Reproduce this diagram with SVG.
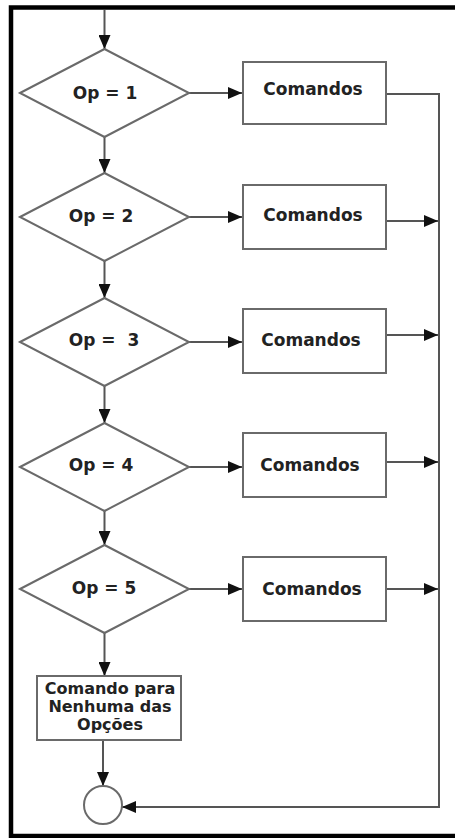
<svg xmlns="http://www.w3.org/2000/svg" width="455" height="838" viewBox="0 0 455 838">
  <style>
    .frame { fill: none; stroke: #000; stroke-width: 4.5; }
    .shape { fill: #fff; stroke: #6a6a6a; stroke-width: 2; }
    .edge { fill: none; stroke: #555; stroke-width: 2; }
    .label { font-family: "DejaVu Sans", Verdana, sans-serif; font-weight: bold; font-size: 17px; fill: #222; text-anchor: middle; }
    .small { font-size: 16px; }
  </style>
  <defs>
    <marker id="arrow" viewBox="0 0 14 12" refX="14" refY="6" markerWidth="14" markerHeight="12" orient="auto" markerUnits="userSpaceOnUse">
      <path d="M0,0 L14,6 L0,12 z" fill="#111"/>
    </marker>
  </defs>

  <rect width="455" height="838" fill="#fff"/>
  <!-- outer frame (open on the right) -->
  <path class="frame" d="M460,7.5 H11 V836 H460"/>

  <!-- connectors -->
  <g id="connectors">
    <line class="edge" x1="104.5" y1="10" x2="104.5" y2="49" marker-end="url(#arrow)"/>
    <line class="edge" x1="104.5" y1="137" x2="104.5" y2="173" marker-end="url(#arrow)"/>
    <line class="edge" x1="104.5" y1="261" x2="104.5" y2="298" marker-end="url(#arrow)"/>
    <line class="edge" x1="104.5" y1="386" x2="104.5" y2="423" marker-end="url(#arrow)"/>
    <line class="edge" x1="104.5" y1="511" x2="104.5" y2="545" marker-end="url(#arrow)"/>
    <line class="edge" x1="104.5" y1="633" x2="104.5" y2="676" marker-end="url(#arrow)"/>
    <line class="edge" x1="103" y1="740" x2="103" y2="786" marker-end="url(#arrow)"/>

    <line class="edge" x1="189" y1="93" x2="242" y2="93" marker-end="url(#arrow)"/>
    <line class="edge" x1="189" y1="217" x2="242" y2="217" marker-end="url(#arrow)"/>
    <line class="edge" x1="189" y1="342" x2="242" y2="342" marker-end="url(#arrow)"/>
    <line class="edge" x1="189" y1="467" x2="242" y2="467" marker-end="url(#arrow)"/>
    <line class="edge" x1="189" y1="589" x2="242" y2="589" marker-end="url(#arrow)"/>

    <path class="edge" d="M386,94 H439 V807 H122" marker-end="url(#arrow)"/>
    <line class="edge" x1="386" y1="221" x2="438" y2="221" marker-end="url(#arrow)"/>
    <line class="edge" x1="386" y1="335" x2="438" y2="335" marker-end="url(#arrow)"/>
    <line class="edge" x1="386" y1="462" x2="438" y2="462" marker-end="url(#arrow)"/>
    <line class="edge" x1="386" y1="589" x2="438" y2="589" marker-end="url(#arrow)"/>
  </g>

  <!-- decisions -->
  <g id="op1">
    <polygon class="shape" points="20,93 104.5,49 189,93 104.5,137"/>
    <text class="label" x="105" y="99">Op = 1</text>
  </g>
  <g id="op2">
    <polygon class="shape" points="20,217 104.5,173 189,217 104.5,261"/>
    <text class="label" x="101" y="222">Op = 2</text>
  </g>
  <g id="op3">
    <polygon class="shape" points="20,342 104.5,298 189,342 104.5,386"/>
    <text class="label" x="104" y="346" xml:space="preserve">Op =  3</text>
  </g>
  <g id="op4">
    <polygon class="shape" points="20,467 104.5,423 189,467 104.5,511"/>
    <text class="label" x="101" y="471">Op = 4</text>
  </g>
  <g id="op5">
    <polygon class="shape" points="20,589 104.5,545 189,589 104.5,633"/>
    <text class="label" x="104" y="594">Op = 5</text>
  </g>

  <!-- command blocks -->
  <g id="cmd1">
    <rect class="shape" x="243" y="62" width="143" height="62"/>
    <text class="label" x="313" y="95">Comandos</text>
  </g>
  <g id="cmd2">
    <rect class="shape" x="243" y="185" width="143" height="64"/>
    <text class="label" x="313" y="221">Comandos</text>
  </g>
  <g id="cmd3">
    <rect class="shape" x="243" y="309" width="143" height="64"/>
    <text class="label" x="311" y="346">Comandos</text>
  </g>
  <g id="cmd4">
    <rect class="shape" x="243" y="433" width="143" height="64"/>
    <text class="label" x="310" y="471">Comandos</text>
  </g>
  <g id="cmd5">
    <rect class="shape" x="243" y="557" width="143" height="64"/>
    <text class="label" x="312" y="595">Comandos</text>
  </g>

  <!-- default branch -->
  <g id="default">
    <rect class="shape" x="37" y="676" width="144" height="64"/>
    <text class="label small" x="110" y="694">Comando para</text>
    <text class="label small" x="110" y="712">Nenhuma das</text>
    <text class="label small" x="110" y="730">Opções</text>
  </g>

  <!-- end connector -->
  <g id="end">
    <circle class="shape" cx="103" cy="805" r="19"/>
  </g>
</svg>
